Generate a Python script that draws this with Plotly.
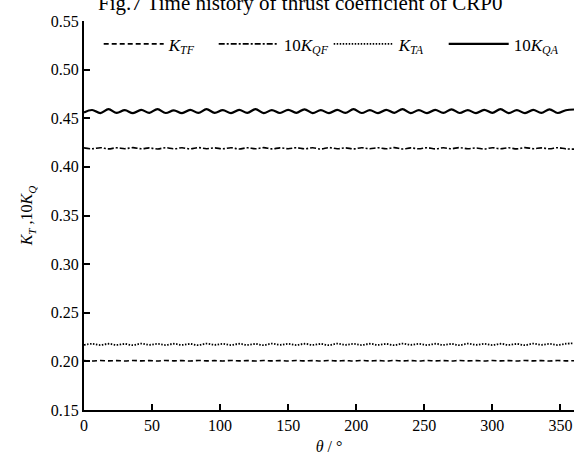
import plotly.graph_objects as go

theta = list(range(0, 361, 6))

k_qa10 = [0.4560, 0.4585, 0.4553, 0.4593, 0.4555, 0.4583, 0.4552, 0.4586, 0.4556, 0.4594,
          0.4554, 0.4582, 0.4553, 0.4587, 0.4555, 0.4593, 0.4556, 0.4584, 0.4552, 0.4586,
          0.4555, 0.4594, 0.4553, 0.4583, 0.4554, 0.4587, 0.4556, 0.4592, 0.4553, 0.4584,
          0.4552, 0.4586, 0.4555, 0.4593, 0.4554, 0.4583, 0.4553, 0.4587, 0.4556, 0.4594,
          0.4553, 0.4584, 0.4552, 0.4586, 0.4555, 0.4592, 0.4554, 0.4583, 0.4553, 0.4587,
          0.4556, 0.4593, 0.4553, 0.4584, 0.4552, 0.4586, 0.4555, 0.4592, 0.4554, 0.4582,
          0.4590]

k_qf10 = [0.4195, 0.4186, 0.4197, 0.4185, 0.4196, 0.4187, 0.4198, 0.4186, 0.4195, 0.4184,
          0.4197, 0.4186, 0.4196, 0.4185, 0.4198, 0.4187, 0.4195, 0.4186, 0.4197, 0.4184,
          0.4196, 0.4186, 0.4198, 0.4185, 0.4195, 0.4187, 0.4197, 0.4186, 0.4196, 0.4184,
          0.4198, 0.4186, 0.4195, 0.4185, 0.4197, 0.4187, 0.4196, 0.4186, 0.4198, 0.4184,
          0.4195, 0.4186, 0.4197, 0.4185, 0.4196, 0.4187, 0.4198, 0.4186, 0.4195, 0.4184,
          0.4197, 0.4186, 0.4196, 0.4185, 0.4198, 0.4187, 0.4195, 0.4186, 0.4197, 0.4185,
          0.4183]

k_ta = [0.2170, 0.2180, 0.2168, 0.2181, 0.2169, 0.2179, 0.2167, 0.2182, 0.2170, 0.2180,
        0.2168, 0.2181, 0.2169, 0.2179, 0.2167, 0.2182, 0.2170, 0.2180, 0.2168, 0.2181,
        0.2169, 0.2179, 0.2167, 0.2182, 0.2170, 0.2180, 0.2168, 0.2181, 0.2169, 0.2179,
        0.2167, 0.2182, 0.2170, 0.2180, 0.2168, 0.2181, 0.2169, 0.2179, 0.2167, 0.2182,
        0.2170, 0.2180, 0.2168, 0.2181, 0.2169, 0.2179, 0.2167, 0.2182, 0.2170, 0.2180,
        0.2168, 0.2181, 0.2169, 0.2179, 0.2167, 0.2182, 0.2170, 0.2180, 0.2168, 0.2181,
        0.2185]

k_tf = [0.2008, 0.2004, 0.2009, 0.2005, 0.2008, 0.2004, 0.2009, 0.2005, 0.2008, 0.2004,
        0.2009, 0.2005, 0.2008, 0.2004, 0.2009, 0.2005, 0.2008, 0.2004, 0.2009, 0.2005,
        0.2008, 0.2004, 0.2009, 0.2005, 0.2008, 0.2004, 0.2009, 0.2005, 0.2008, 0.2004,
        0.2009, 0.2005, 0.2008, 0.2004, 0.2009, 0.2005, 0.2008, 0.2004, 0.2009, 0.2005,
        0.2008, 0.2004, 0.2009, 0.2005, 0.2008, 0.2004, 0.2009, 0.2005, 0.2008, 0.2004,
        0.2009, 0.2005, 0.2008, 0.2004, 0.2009, 0.2005, 0.2008, 0.2004, 0.2009, 0.2005,
        0.2007]

x_ticks = [0, 50, 100, 150, 200, 250, 300, 350]
y_ticks = [0.15, 0.20, 0.25, 0.30, 0.35, 0.40, 0.45, 0.50, 0.55]

FONT = "Liberation Serif, Times New Roman, serif"

fig = go.Figure()
series = [
    ("<i>K</i><sub><i>TF</i></sub>", k_tf, "5px,3px", 1.6),
    ("10<i>K</i><sub><i>QF</i></sub>", k_qf10, "6px,2px,2px,2px", 1.6),
    ("<i>K</i><sub><i>TA</i></sub>", k_ta, "1.5px,1.5px", 1.8),
    ("10<i>K</i><sub><i>QA</i></sub>", k_qa10, "solid", 2.2),
]
for name, vals, dash, w in series:
    fig.add_trace(go.Scatter(
        x=theta, y=vals, mode="lines", name=name,
        line=dict(color="black", width=w, dash=dash, shape="spline", smoothing=1.0),
    ))

fig.update_layout(
    width=576, height=465,
    margin=dict(l=84, r=2, t=21, b=55),
    paper_bgcolor="white", plot_bgcolor="white",
    font=dict(family=FONT, size=16, color="black"),
    showlegend=True,
    legend=dict(
        orientation="h", x=0.03, y=0.94, xanchor="left", yanchor="middle",
        bgcolor="rgba(0,0,0,0)", font=dict(family=FONT, size=17, color="black"),
        entrywidth=40, entrywidthmode="pixels", itemwidth=60, tracegroupgap=0,
    ),
    xaxis=dict(
        range=[0, 360], tickvals=x_ticks, ticks="inside", ticklen=6, tickwidth=2,
        tickcolor="black", showline=True, linecolor="black", linewidth=2,
        showgrid=False, zeroline=False, tickfont=dict(family=FONT, size=16),
        title=dict(text="<i>θ</i> / °", font=dict(family=FONT, size=16), standoff=8),
    ),
    yaxis=dict(
        range=[0.15, 0.55], tickvals=y_ticks, tickformat=".2f", ticks="inside",
        ticklen=6, tickwidth=2, tickcolor="black", showline=True, linecolor="black",
        linewidth=2, showgrid=False, zeroline=False, tickfont=dict(family=FONT, size=16),
        title=dict(text="<i>K</i><sub><i>T</i></sub> ,10<i>K</i><sub><i>Q</i></sub>",
                   font=dict(family=FONT, size=16), standoff=14),
    ),
    annotations=[dict(
        text="Fig.7 Time history of thrust coefficient of CRP0",
        xref="paper", yref="paper", x=0.44, y=1.045, xanchor="center", yanchor="middle",
        showarrow=False, font=dict(family=FONT, size=21, color="black"),
    )],
)

fig.write_html("out.html")
